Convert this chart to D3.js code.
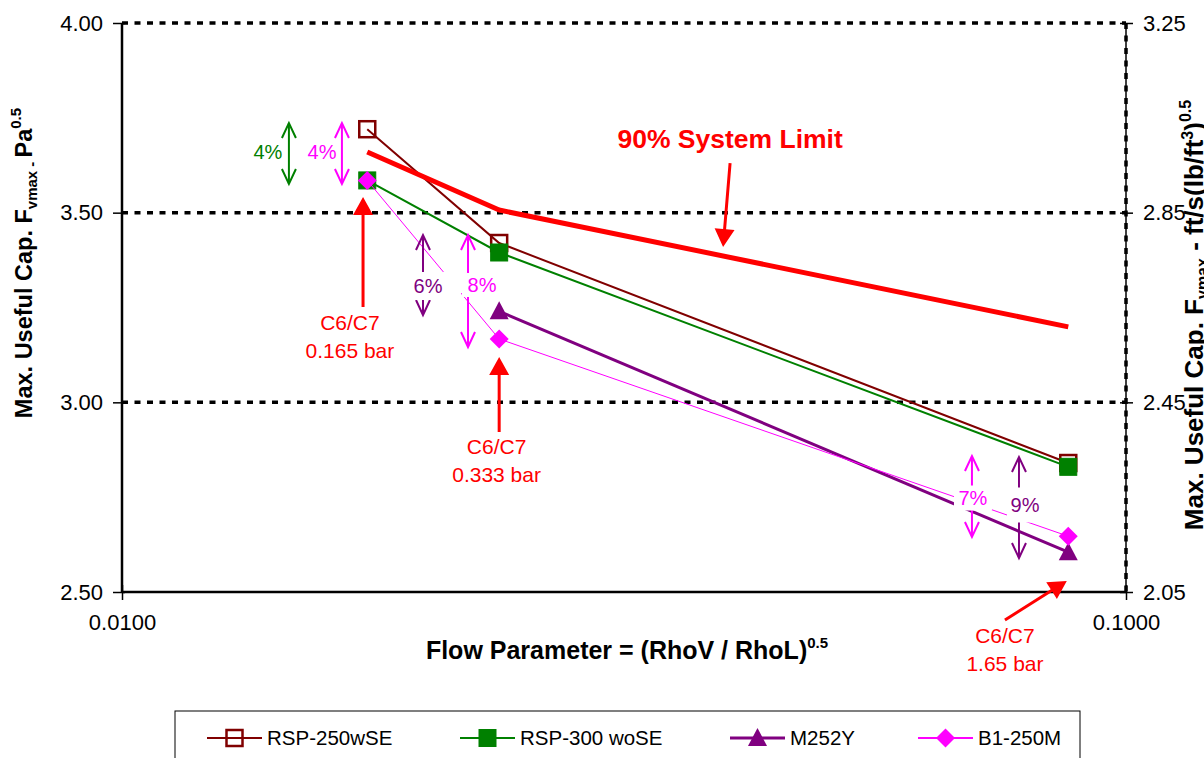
<!DOCTYPE html>
<html>
<head>
<meta charset="utf-8">
<script src="https://cdn.jsdelivr.net/npm/d3@7"></script>
<style>
  html, body { margin: 0; padding: 0; background: #fff; }
  svg { display: block; font-family: Arial, "Liberation Sans", sans-serif; }
</style>
</head>
<body>
<svg id="chart" width="1204" height="758"></svg>
<script>
// ---- data ----
const flowParam = [0.01755, 0.02375, 0.0876];
const rsp250wSE = [3.72, 3.42, 2.84];
const rsp300woSE = [3.585, 3.395, 2.83];
const m252yFlow = [0.02375, 0.0876];
const m252y = [3.24, 2.605];
const b1250M = [3.585, 3.167, 2.647];
const systemLimit90 = [3.66, 3.507, 3.199];

const leftTicks = [2.50, 3.00, 3.50, 4.00];
const rightTicks = [2.05, 2.45, 2.85, 3.25];
const xTicks = [0.01, 0.1];
const gridValues = [3.00, 3.50, 4.00];

const seriesNames = ["RSP-250wSE", "RSP-300 woSE", "M252Y", "B1-250M"];

// percentage spread markers: [text, colour, arrow flow, arrow top, arrow bottom, label flow, label value, box w, box h]
const spreadNotes = [
  ["4%", "#008000", 0.014664, 3.7364, 3.5756, 0.013976, 3.6415, 0, 0],
  ["4%", "#FF00FF", 0.016560, 3.7364, 3.5756, 0.015821, 3.6415, 0, 0],
  ["6%", "#800080", 0.019943, 3.4411, 3.2302, 0.020175, 3.2882, 58, 28],
  ["8%", "#FF00FF", 0.022112, 3.4411, 3.1458, 0.022834, 3.2909, 40, 24],
  ["7%", "#FF00FF", 0.070237, 2.8585, 2.6450, 0.070400, 2.7293, 38, 25],
  ["9%", "#800080", 0.078234, 2.8559, 2.5896, 0.079318, 2.7109, 36, 35]
];

// pressure call-outs: [line1, line2, tip flow, tip value, tail flow, tail value, label flow, label value]
const pressureNotes = [
  ["C6/C7", "0.165 bar", 0.017381, 3.5413, 0.017381, 3.2513, 0.016865, 3.1907],
  ["C6/C7", "0.333 bar", 0.02375, 3.1195, 0.02375, 2.9218, 0.02361, 2.8638],
  ["C6/C7", "1.65 bar", 0.0873, 2.5290, 0.07576, 2.4262, 0.07576, 2.3655]
];

const svg = d3.select("#chart");
const margin = { left: 122, right: 1126, top: 23, bottom: 592 };

const x = d3.scaleLog().domain([0.01, 0.1]).range([margin.left, margin.right]);
const y = d3.scaleLinear().domain([2.5, 4.0]).range([margin.bottom, margin.top]);
const yR = d3.scaleLinear().domain([2.05, 3.25]).range([margin.bottom, margin.top]);

// ---- gridlines ----
svg.append("g").selectAll("line").data(gridValues).join("line")
  .attr("x1", margin.left).attr("x2", margin.right)
  .attr("y1", d => y(d)).attr("y2", d => y(d))
  .attr("stroke", "#000").attr("stroke-width", 3.5)
  .attr("stroke-dasharray", "6,6.5");

// ---- axes ----
const axisStyle = g => {
  g.select(".domain").remove();
  g.selectAll("text").attr("font-size", 22).attr("fill", "#000")
    .attr("font-family", 'Arial, "Liberation Sans", sans-serif');
  g.selectAll(".tick line").attr("stroke", "#000").attr("stroke-width", 1.5);
};

const gLeft = svg.append("g").attr("transform", `translate(${margin.left},0)`)
  .call(d3.axisLeft(y).tickValues(leftTicks).tickFormat(d3.format(".2f")).tickSize(9).tickPadding(10))
  .call(axisStyle);
gLeft.selectAll(".tick line").attr("x2", -9).attr("x1", 3);

const gRight = svg.append("g").attr("transform", `translate(${margin.right},0)`)
  .call(d3.axisRight(yR).tickValues(rightTicks).tickFormat(d3.format(".2f")).tickSize(7).tickPadding(10))
  .call(axisStyle);
gRight.selectAll(".tick line").attr("x1", -6).attr("x2", 7);

const gBottom = svg.append("g").attr("transform", `translate(0,${margin.bottom})`)
  .call(d3.axisBottom(x).tickValues(xTicks).tickFormat(d3.format(".4f")).tickSize(8).tickPadding(14))
  .call(axisStyle);
gBottom.selectAll(".tick line").attr("y1", -7).attr("y2", 8);

// axis lines and plot frame
svg.append("line").attr("x1", margin.left).attr("x2", margin.left)
  .attr("y1", margin.top).attr("y2", margin.bottom).attr("stroke", "#000").attr("stroke-width", 2.5);
svg.append("line").attr("x1", margin.left).attr("x2", margin.right)
  .attr("y1", margin.bottom).attr("y2", margin.bottom).attr("stroke", "#000").attr("stroke-width", 2.5);
svg.append("line").attr("x1", margin.right).attr("x2", margin.right)
  .attr("y1", margin.top).attr("y2", margin.bottom).attr("stroke", "#000").attr("stroke-width", 1.5);
svg.append("line").attr("x1", margin.right).attr("x2", margin.right)
  .attr("y1", margin.top).attr("y2", margin.bottom).attr("stroke", "#000").attr("stroke-width", 3.5)
  .attr("stroke-dasharray", "6,6.5");

// ---- axis titles ----
const leftTitle = svg.append("text")
  .attr("transform", `translate(32,${263}) rotate(-90)`)
  .attr("text-anchor", "middle").attr("font-weight", "bold").attr("font-size", 23.5);
leftTitle.append("tspan").text("Max. Useful Cap. F");
leftTitle.append("tspan").attr("font-size", 15).attr("dy", 5).text("vmax - ");
leftTitle.append("tspan").attr("dy", -5).text("Pa");
leftTitle.append("tspan").attr("font-size", 15).attr("dy", -11).text("0.5");

// right-hand title runs off the page edge, as on the printed sheet
const rightTitle = svg.append("text")
  .attr("transform", `translate(1203,${315}) rotate(-90)`)
  .attr("text-anchor", "middle").attr("font-weight", "bold").attr("font-size", 26);
rightTitle.append("tspan").text("Max. Useful Cap. F");
rightTitle.append("tspan").attr("font-size", 16).attr("dy", 5).text("vmax");
rightTitle.append("tspan").attr("dy", -5).text(" - ft/s(lb/ft");
rightTitle.append("tspan").attr("font-size", 16).attr("dy", -10).text("3");
rightTitle.append("tspan").attr("dy", 10).text(")");
rightTitle.append("tspan").attr("font-size", 16).attr("dy", -12).text("0.5");

const bottomTitle = svg.append("text")
  .attr("x", 627).attr("y", 659)
  .attr("text-anchor", "middle").attr("font-weight", "bold").attr("font-size", 25);
bottomTitle.append("tspan").text("Flow Parameter = (RhoV / RhoL)");
bottomTitle.append("tspan").attr("font-size", 15).attr("dy", -11).text("0.5");

// ---- series ----
const line = d3.line().x(d => x(d[0])).y(d => y(d[1]));

const series = [
  { name: seriesNames[0], xs: flowParam, ys: rsp250wSE, color: "#800000", width: 2, marker: "openSquare" },
  { name: seriesNames[1], xs: flowParam, ys: rsp300woSE, color: "#008000", width: 2, marker: "square" },
  { name: seriesNames[2], xs: m252yFlow, ys: m252y, color: "#800080", width: 3, marker: "triangle" },
  { name: seriesNames[3], xs: flowParam, ys: b1250M, color: "#FF00FF", width: 1, marker: "diamond" }
];

function drawMarker(g, type, color) {
  if (type === "openSquare") {
    g.append("rect").attr("x", -8).attr("y", -8).attr("width", 16).attr("height", 16)
      .attr("fill", "none").attr("stroke", color).attr("stroke-width", 2.5);
  } else if (type === "square") {
    g.append("rect").attr("x", -8.5).attr("y", -8.5).attr("width", 17).attr("height", 17)
      .attr("fill", color).attr("stroke", color).attr("stroke-width", 1);
  } else if (type === "triangle") {
    g.append("path").attr("d", "M0,-10L9.5,8L-9.5,8Z").attr("fill", color);
  } else if (type === "diamond") {
    g.append("path").attr("d", "M0,-9.5L9.5,0L0,9.5L-9.5,0Z").attr("fill", color);
  }
}

series.forEach(s => {
  const pts = s.xs.map((v, i) => [v, s.ys[i]]);
  svg.append("path").datum(pts).attr("d", line)
    .attr("fill", "none").attr("stroke", s.color).attr("stroke-width", s.width);
  pts.forEach(p => {
    const g = svg.append("g").attr("transform", `translate(${x(p[0])},${y(p[1])})`);
    drawMarker(g, s.marker, s.color);
  });
});

// 90% system limit
svg.append("path").datum(flowParam.map((v, i) => [v, systemLimit90[i]])).attr("d", line)
  .attr("fill", "none").attr("stroke", "#FF0000").attr("stroke-width", 5)
  .attr("stroke-linejoin", "round");

// ---- arrows ----
function openArrowHead(g, x0, y0, dir, color) {
  // dir: -1 pointing up, +1 pointing down
  g.append("path")
    .attr("d", `M${x0 - 7},${y0 - dir * 15}L${x0},${y0}L${x0 + 7},${y0 - dir * 15}`)
    .attr("fill", "none").attr("stroke", color).attr("stroke-width", 2);
}

// filled call-out arrow drawn as a single polygon: shaft plus head
function filledArrow(g, x1, y1, x2, y2, color) {
  const dx = x2 - x1, dy = y2 - y1;
  const L = Math.hypot(dx, dy);
  const ux = dx / L, uy = dy / L;      // along the shaft
  const nx = -uy, ny = ux;             // across the shaft
  const headLen = 18, headHalf = 10, shaftHalf = 1.5;
  const bx = x2 - ux * headLen, by = y2 - uy * headLen;
  const pts = [
    [x1 + nx * shaftHalf, y1 + ny * shaftHalf],
    [bx + nx * shaftHalf, by + ny * shaftHalf],
    [bx + nx * headHalf, by + ny * headHalf],
    [x2, y2],
    [bx - nx * headHalf, by - ny * headHalf],
    [bx - nx * shaftHalf, by - ny * shaftHalf],
    [x1 - nx * shaftHalf, y1 - ny * shaftHalf]
  ];
  g.append("path")
    .attr("d", "M" + pts.map(p => p[0].toFixed(2) + "," + p[1].toFixed(2)).join("L") + "Z")
    .attr("fill", color);
}

const notes = svg.append("g");

spreadNotes.forEach(n => {
  const ax = x(n[2]), y1 = y(n[3]), y2 = y(n[4]);
  notes.append("line").attr("x1", ax).attr("x2", ax).attr("y1", y1).attr("y2", y2)
    .attr("stroke", n[1]).attr("stroke-width", 2);
  openArrowHead(notes, ax, y1, -1, n[1]);
  openArrowHead(notes, ax, y2, 1, n[1]);
});

spreadNotes.forEach(n => {
  const lx = x(n[5]), ly = y(n[6]);
  if (n[7] > 0) {
    notes.append("rect")
      .attr("x", lx - n[7] / 2 + (n[0] === "6%" ? 4 : 0)).attr("y", ly - 7 - n[8] / 2)
      .attr("width", n[7]).attr("height", n[8]).attr("fill", "#fff");
  }
  notes.append("text").attr("x", lx).attr("y", ly)
    .attr("text-anchor", "middle").attr("font-size", 20).attr("fill", n[1]).text(n[0]);
});

pressureNotes.forEach(n => {
  filledArrow(notes, x(n[4]), y(n[5]), x(n[2]), y(n[3]), "#FF0000");
  const t = notes.append("text").attr("text-anchor", "middle").attr("font-size", 21).attr("fill", "#FF0000");
  t.append("tspan").attr("x", x(n[6])).attr("y", y(n[7])).text(n[0]);
  t.append("tspan").attr("x", x(n[6])).attr("dy", 28).text(n[1]);
});

// system limit call-out
notes.append("text").attr("x", x(0.040333)).attr("y", y(3.6705))
  .attr("text-anchor", "middle").attr("font-size", 26.5).attr("font-weight", "bold")
  .attr("fill", "#FF0000").text("90% System Limit");
filledArrow(notes, x(0.040333), y(3.6309), x(0.039691), y(3.4095), "#FF0000");

// ---- legend ----
const legend = svg.append("g");
legend.append("rect").attr("x", 175).attr("y", 711).attr("width", 905).attr("height", 60)
  .attr("fill", "#fff").attr("stroke", "#000").attr("stroke-width", 1);
const legendX = [207, 460, 730, 918];
series.forEach((s, i) => {
  const lx = legendX[i], ly = 738;
  legend.append("line").attr("x1", lx).attr("x2", lx + 55).attr("y1", ly).attr("y2", ly)
    .attr("stroke", s.color).attr("stroke-width", Math.max(s.width, 2));
  const g = legend.append("g").attr("transform", `translate(${lx + 27.5},${ly})`);
  drawMarker(g, s.marker, s.color);
  legend.append("text").attr("x", lx + 60).attr("y", ly + 7)
    .attr("font-size", 20.5).attr("fill", "#000").text(s.name);
});
</script>
</body>
</html>
